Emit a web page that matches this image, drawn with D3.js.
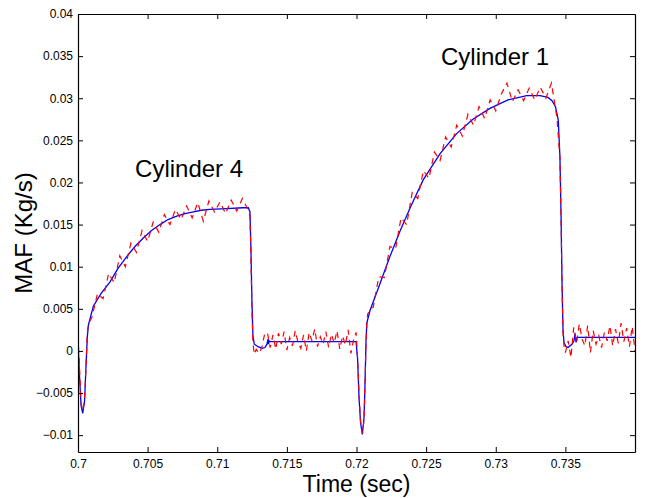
<!DOCTYPE html>
<html>
<head>
<meta charset="utf-8">
<script src="https://cdn.jsdelivr.net/npm/d3@7"></script>
<style>
  body { margin: 0; background: #fff; }
  text { font-family: "Liberation Sans", Arial, Helvetica, sans-serif; fill: #000; }
</style>
</head>
<body>
<svg id="chart" width="652" height="498"></svg>
<script>
// ---------------- Data ----------------
// model output (blue, solid): [time, MAF]
const modelSeries = [
  [0.70000, 0.0011], [0.70011, -0.0030], [0.70022, -0.0065], [0.70034, -0.0074],
  [0.70047, -0.0060], [0.70057, -0.0020], [0.70067, 0.0017], [0.70075, 0.0031],
  [0.70110, 0.0053], [0.70165, 0.0068], [0.70230, 0.0082], [0.70287, 0.0098],
  [0.70350, 0.0112], [0.70409, 0.0124], [0.70469, 0.0134], [0.70528, 0.0143],
  [0.70589, 0.0150], [0.70646, 0.0156], [0.70709, 0.0160], [0.70768, 0.0163],
  [0.70828, 0.0165], [0.70887, 0.0167], [0.70947, 0.0168], [0.71067, 0.0169],
  [0.71184, 0.0170], [0.71223, 0.0170], [0.71235, 0.0165], [0.71242, 0.0120],
  [0.71249, 0.0060], [0.71256, 0.0018], [0.71266, 0.0008], [0.71293, 0.0005],
  [0.71322, 0.0003], [0.71343, 0.0004], [0.71357, 0.0008], [0.71365, 0.0014],
  [0.71368, 0.0008], [0.71372, 0.0012], [0.71379, 0.0011], [0.71997, 0.0011],
  [0.72008, -0.0010], [0.72018, -0.0055], [0.72029, -0.0085], [0.72042, -0.0099],
  [0.72054, -0.0080], [0.72061, -0.0040], [0.72068, 0.0010], [0.72074, 0.0033],
  [0.72097, 0.0048], [0.72169, 0.0080], [0.72240, 0.0112], [0.72312, 0.0142],
  [0.72391, 0.0172], [0.72479, 0.0203], [0.72599, 0.0234], [0.72719, 0.0258],
  [0.72836, 0.0275], [0.72958, 0.0288], [0.73088, 0.0298], [0.73222, 0.0303],
  [0.73318, 0.0303], [0.73375, 0.0301], [0.73404, 0.0297], [0.73429, 0.0290],
  [0.73449, 0.0274], [0.73461, 0.0230], [0.73469, 0.0160], [0.73476, 0.0080],
  [0.73483, 0.0025], [0.73490, 0.0010], [0.73505, 0.0005], [0.73519, 0.0004],
  [0.73533, 0.0006], [0.73548, 0.0008], [0.73562, 0.0012], [0.73569, 0.0021],
  [0.73577, 0.0010], [0.73584, 0.0016], [0.74000, 0.0016]
];

// measured (red, dashed): [time, MAF]
const measuredSeries = [
  [0.70000, 0.0018], [0.70011, -0.0020], [0.70022, -0.0062], [0.70034, -0.0071],
  [0.70047, -0.0058], [0.70057, -0.0020], [0.70067, 0.0022], [0.70075, 0.0032],
  [0.7010, 0.0040], [0.7014, 0.0068], [0.7018, 0.0062], [0.7022, 0.0092],
  [0.7026, 0.0081], [0.7030, 0.0113], [0.7034, 0.0100], [0.7038, 0.0128],
  [0.7042, 0.0117], [0.7046, 0.0143], [0.7050, 0.0130], [0.7054, 0.0153],
  [0.7058, 0.0141], [0.7062, 0.0162], [0.7066, 0.0150], [0.7070, 0.0168],
  [0.7074, 0.0156], [0.7078, 0.0172], [0.7082, 0.0158], [0.7086, 0.0176],
  [0.7090, 0.0154], [0.7094, 0.0178], [0.7098, 0.0165], [0.7102, 0.0177],
  [0.7106, 0.0163], [0.7110, 0.0179], [0.7114, 0.0166], [0.7118, 0.0181],
  [0.7122, 0.0168], [0.71235, 0.0160], [0.71242, 0.0110], [0.71249, 0.0050],
  [0.71256, 0.0010], [0.71266, -0.0004], [0.7128, 0.0002], [0.7130, -0.0003],
  [0.7132, 0.0004], [0.7134, 0.0020], [0.7136, 0.0022], [0.7138, 0.0004],
  [0.7140, 0.0019], [0.7142, 0.0002], [0.7144, 0.0021], [0.7146, 0.0008],
  [0.7148, 0.0023], [0.7150, 0.0001], [0.7152, 0.0016], [0.7154, 0.0006],
  [0.7156, 0.0024], [0.7158, 0.0010], [0.7160, 0.0003], [0.7162, 0.0019],
  [0.7164, 0.0000], [0.7166, 0.0022], [0.7168, 0.0012], [0.7170, 0.0026],
  [0.7172, 0.0005], [0.7174, 0.0017], [0.7176, 0.0008], [0.7178, 0.0023],
  [0.7180, 0.0004], [0.7182, 0.0020], [0.7184, 0.0009], [0.7186, 0.0024],
  [0.7188, 0.0002], [0.7190, 0.0018], [0.7192, 0.0007], [0.7194, 0.0025],
  [0.7196, -0.0003], [0.7198, 0.0014], [0.71997, 0.0022], [0.72008, -0.0008],
  [0.72018, -0.0050], [0.72029, -0.0083], [0.72042, -0.0098], [0.72054, -0.0082],
  [0.72061, -0.0042], [0.72068, 0.0008], [0.72074, 0.0030], [0.7208, 0.0044],
  [0.7212, 0.0052], [0.7216, 0.0088], [0.7220, 0.0087], [0.7224, 0.0124],
  [0.7228, 0.0121], [0.7232, 0.0158], [0.7236, 0.0150], [0.7240, 0.0188],
  [0.7244, 0.0181], [0.7248, 0.0214], [0.7252, 0.0205], [0.7256, 0.0236],
  [0.7260, 0.0226], [0.7264, 0.0254], [0.7268, 0.0242], [0.7272, 0.0268],
  [0.7276, 0.0255], [0.7280, 0.0281], [0.7284, 0.0268], [0.7288, 0.0290],
  [0.7292, 0.0276], [0.7296, 0.0298], [0.7300, 0.0285], [0.7304, 0.0305],
  [0.7308, 0.0318], [0.7312, 0.0296], [0.7316, 0.0310], [0.7320, 0.0297],
  [0.7324, 0.0312], [0.7328, 0.0298], [0.7332, 0.0313], [0.7336, 0.0300],
  [0.7340, 0.0318], [0.7344, 0.0276], [0.73461, 0.0228], [0.73469, 0.0158],
  [0.73476, 0.0078], [0.73483, 0.0022], [0.7349, 0.0006], [0.7350, -0.0002],
  [0.7352, 0.0012], [0.7354, -0.0008], [0.7356, 0.0028], [0.7358, 0.0010],
  [0.7360, 0.0032], [0.7362, 0.0014], [0.7364, 0.0006], [0.7366, 0.0030],
  [0.7368, -0.0002], [0.7370, 0.0024], [0.7372, 0.0008], [0.7374, 0.0018],
  [0.7376, 0.0004], [0.7378, 0.0022], [0.7380, 0.0012], [0.7382, 0.0030],
  [0.7384, 0.0006], [0.7386, 0.0026], [0.7388, 0.0009], [0.7390, 0.0033],
  [0.7392, 0.0011], [0.7394, 0.0027], [0.7396, 0.0005], [0.7398, 0.0029],
  [0.7400, 0.0000]
];

const xTicks = [0.7, 0.705, 0.71, 0.715, 0.72, 0.725, 0.73, 0.735];
const yTicks = [-0.01, -0.005, 0, 0.005, 0.01, 0.015, 0.02, 0.025, 0.03, 0.035, 0.04];

const annotations = [
  { text: "Cylinder 4", t: 0.70410, v: 0.0207 },
  { text: "Cylinder 1", t: 0.72607, v: 0.0339 }
];

// ---------------- Layout ----------------
const svg = d3.select("#chart");
const boxLeft = 78, boxRight = 635, boxTop = 14, boxBottom = 452;

const x = d3.scaleLinear().domain([0.7, 0.74]).range([boxLeft, boxRight]);
const y = d3.scaleLinear().domain([-0.012, 0.04]).range([boxBottom, boxTop]);
const fmt = d3.format("~g");

// clip to the axes box
svg.append("clipPath").attr("id", "box")
  .append("rect")
  .attr("x", boxLeft).attr("y", boxTop)
  .attr("width", boxRight - boxLeft).attr("height", boxBottom - boxTop);

const line = d3.line().x(d => x(d[0])).y(d => y(d[1]));

const plot = svg.append("g").attr("clip-path", "url(#box)");

plot.append("path")
  .datum(modelSeries)
  .attr("d", line)
  .attr("fill", "none")
  .attr("stroke", "#0000ff")
  .attr("stroke-width", 1.3);

plot.append("path")
  .datum(measuredSeries)
  .attr("d", line)
  .attr("fill", "none")
  .attr("stroke", "#ff0000")
  .attr("stroke-width", 1.2)
  .attr("stroke-dasharray", "6,5");

// ---------------- Axes (MATLAB style, ticks inward on all sides) ----------------
function styleAxis(g) {
  g.select(".domain").attr("stroke", "#000").attr("stroke-width", 1.2);
  g.selectAll(".tick line").attr("stroke", "#000").attr("stroke-width", 1);
  g.selectAll(".tick text")
    .attr("font-size", 12)
    .attr("font-family", "Liberation Sans, Arial, sans-serif")
    .attr("fill", "#000");
}

svg.append("g")
  .attr("transform", `translate(0,${boxBottom})`)
  .call(d3.axisBottom(x).tickValues(xTicks).tickFormat(fmt)
    .tickSizeInner(-5).tickSizeOuter(0).tickPadding(7))
  .call(styleAxis);

svg.append("g")
  .attr("transform", `translate(0,${boxTop})`)
  .call(d3.axisTop(x).tickValues(xTicks).tickFormat("")
    .tickSizeInner(-5).tickSizeOuter(0))
  .call(styleAxis);

svg.append("g")
  .attr("transform", `translate(${boxLeft},0)`)
  .call(d3.axisLeft(y).tickValues(yTicks).tickFormat(fmt)
    .tickSizeInner(-5).tickSizeOuter(0).tickPadding(5))
  .call(styleAxis);

svg.append("g")
  .attr("transform", `translate(${boxRight},0)`)
  .call(d3.axisRight(y).tickValues(yTicks).tickFormat("")
    .tickSizeInner(-5).tickSizeOuter(0))
  .call(styleAxis);

// ---------------- Labels ----------------
svg.append("text")
  .attr("x", (boxLeft + boxRight) / 2)
  .attr("y", 492)
  .attr("text-anchor", "middle")
  .attr("font-size", 23)
  .text("Time (sec)");

svg.append("text")
  .attr("transform", `translate(32,${(boxTop + boxBottom) / 2}) rotate(-90)`)
  .attr("text-anchor", "middle")
  .attr("font-size", 24)
  .text("MAF (Kg/s)");

svg.selectAll("text.note")
  .data(annotations)
  .enter()
  .append("text")
  .attr("class", "note")
  .attr("x", d => x(d.t))
  .attr("y", d => y(d.v))
  .attr("font-size", 24)
  .text(d => d.text);
</script>
</body>
</html>
